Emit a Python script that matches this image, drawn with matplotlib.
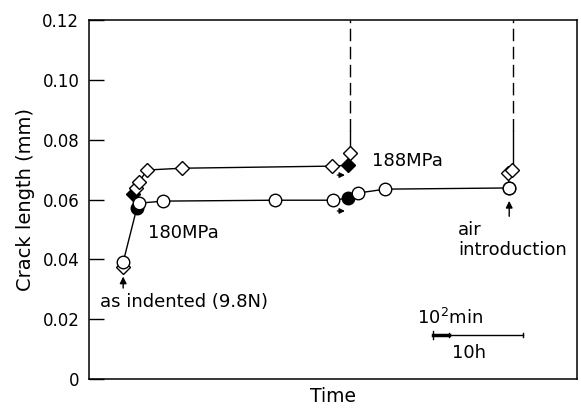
import matplotlib

matplotlib.use("Agg")
import matplotlib.pyplot as plt

# time axis has no scale, values are in arbitrary units (0-100)
circle_t = [7.0, 9.8, 10.2, 15.2, 38.1, 50.0, 53.1, 55.1, 60.7, 86.1]
circle_len = [0.0391, 0.0572, 0.0588, 0.0595, 0.0598, 0.0598, 0.0605, 0.0622, 0.0635, 0.0639]
circle_filled = [False, True, False, False, False, False, True, False, False, False]

diamond_t = [7.0, 9.0, 9.6, 10.2, 11.9, 19.1, 49.8, 53.1, 53.5]
diamond_len = [0.0376, 0.0618, 0.0638, 0.0658, 0.0699, 0.0705, 0.0712, 0.0715, 0.0755]
diamond_filled = [False, True, False, False, False, False, False, True, False]

air_t = [86.1, 85.9, 86.7]
air_len = [0.0639, 0.0688, 0.0700]

fracture_t = [53.5, 86.9]
fracture_start = [0.0755, 0.0700]
fracture_dash_from = 0.083

yticks = [0, 0.02, 0.04, 0.06, 0.08, 0.10, 0.12]
ytick_labels = ["0", "0.02", "0.04", "0.06", "0.08", "0.10", "0.12"]

plt.rcParams["font.family"] = ["DejaVu Sans"]
fig = plt.figure(figsize=(5.81, 4.12), dpi=100)
ax = fig.add_axes([0.1532, 0.080, 0.840, 0.871])

lw = 1.0
ax.plot(circle_t, circle_len, color="black", lw=lw, zorder=2)
ax.plot(diamond_t[1:], diamond_len[1:], color="black", lw=lw, zorder=2)
ax.plot(air_t, air_len, color="black", lw=lw, zorder=2)

for t, y, f in zip(diamond_t, diamond_len, diamond_filled):
    ax.plot(t, y, marker="D", ms=7, mec="black", mew=1.0,
            mfc="black" if f else "white", zorder=3)
for t, y in zip(air_t[1:], air_len[1:]):
    ax.plot(t, y, marker="D", ms=7, mec="black", mew=1.0, mfc="white", zorder=3)
for t, y, f in zip(circle_t, circle_len, circle_filled):
    ax.plot(t, y, marker="o", ms=9, mec="black", mew=1.0,
            mfc="black" if f else "white", zorder=4)
ax.plot(air_t[0], air_len[0], marker="o", ms=9, mec="black", mew=1.0, mfc="white", zorder=4)

# fracture: solid then dashed up to the top
for t, y0 in zip(fracture_t, fracture_start):
    ax.plot([t, t], [y0, fracture_dash_from], color="black", lw=lw, zorder=2)
    ax.plot([t, t], [fracture_dash_from, 0.12], color="black", lw=lw,
            dashes=(9, 4), zorder=2)

# small arrows under the filled points
for y in (0.0682, 0.0562):
    ax.annotate("", xy=(53.0, y), xytext=(50.3, y),
                arrowprops=dict(arrowstyle="-|>", color="black", lw=0.9,
                                mutation_scale=8))

ax.annotate("", xy=(7.0, 0.0352), xytext=(7.0, 0.0295),
            arrowprops=dict(arrowstyle="-|>", color="black", lw=1.0, mutation_scale=10))
ax.annotate("", xy=(86.1, 0.0605), xytext=(86.1, 0.0535),
            arrowprops=dict(arrowstyle="-|>", color="black", lw=1.0, mutation_scale=10))

fs = 13
ax.text(12.0, 0.0490, "180MPa", fontsize=fs, va="center", ha="left")
ax.text(58.0, 0.0730, "188MPa", fontsize=fs, va="center", ha="left")
ax.text(2.2, 0.0256, "as indented (9.8N)", fontsize=fs, va="center", ha="left")
ax.text(75.6, 0.0497, "air", fontsize=fs, va="center", ha="left")
ax.text(75.6, 0.0430, "introduction", fontsize=fs, va="center", ha="left")

# scale bar
ax.text(67.2, 0.0204, "10$^2$min", fontsize=fs, va="center", ha="left")
ax.plot([70.5, 89.0], [0.0147, 0.0147], color="black", lw=1.0)
ax.plot([70.5, 73.7], [0.0147, 0.0147], color="black", lw=2.5)
ax.plot([70.5, 70.5], [0.0135, 0.0160], color="black", lw=1.0)
ax.plot([73.7, 73.7], [0.0140, 0.0155], color="black", lw=1.0)
ax.plot([89.0, 89.0], [0.0140, 0.0155], color="black", lw=1.0)
ax.text(74.3, 0.0088, "10h", fontsize=fs, va="center", ha="left")

ax.set_xlim(0, 100)
ax.set_ylim(0, 0.12)
ax.set_yticks(yticks)
ax.set_yticklabels(ytick_labels, fontsize=12)
ax.set_xticks([])
ax.tick_params(axis="y", direction="in", length=11, width=1.0, pad=7)
for spine in ax.spines.values():
    spine.set_linewidth(1.1)

ax.set_xlabel("Time", fontsize=13.5, labelpad=6)
ax.set_ylabel("Crack length (mm)", fontsize=14, labelpad=5)

fig.savefig("out.png", dpi=100)
